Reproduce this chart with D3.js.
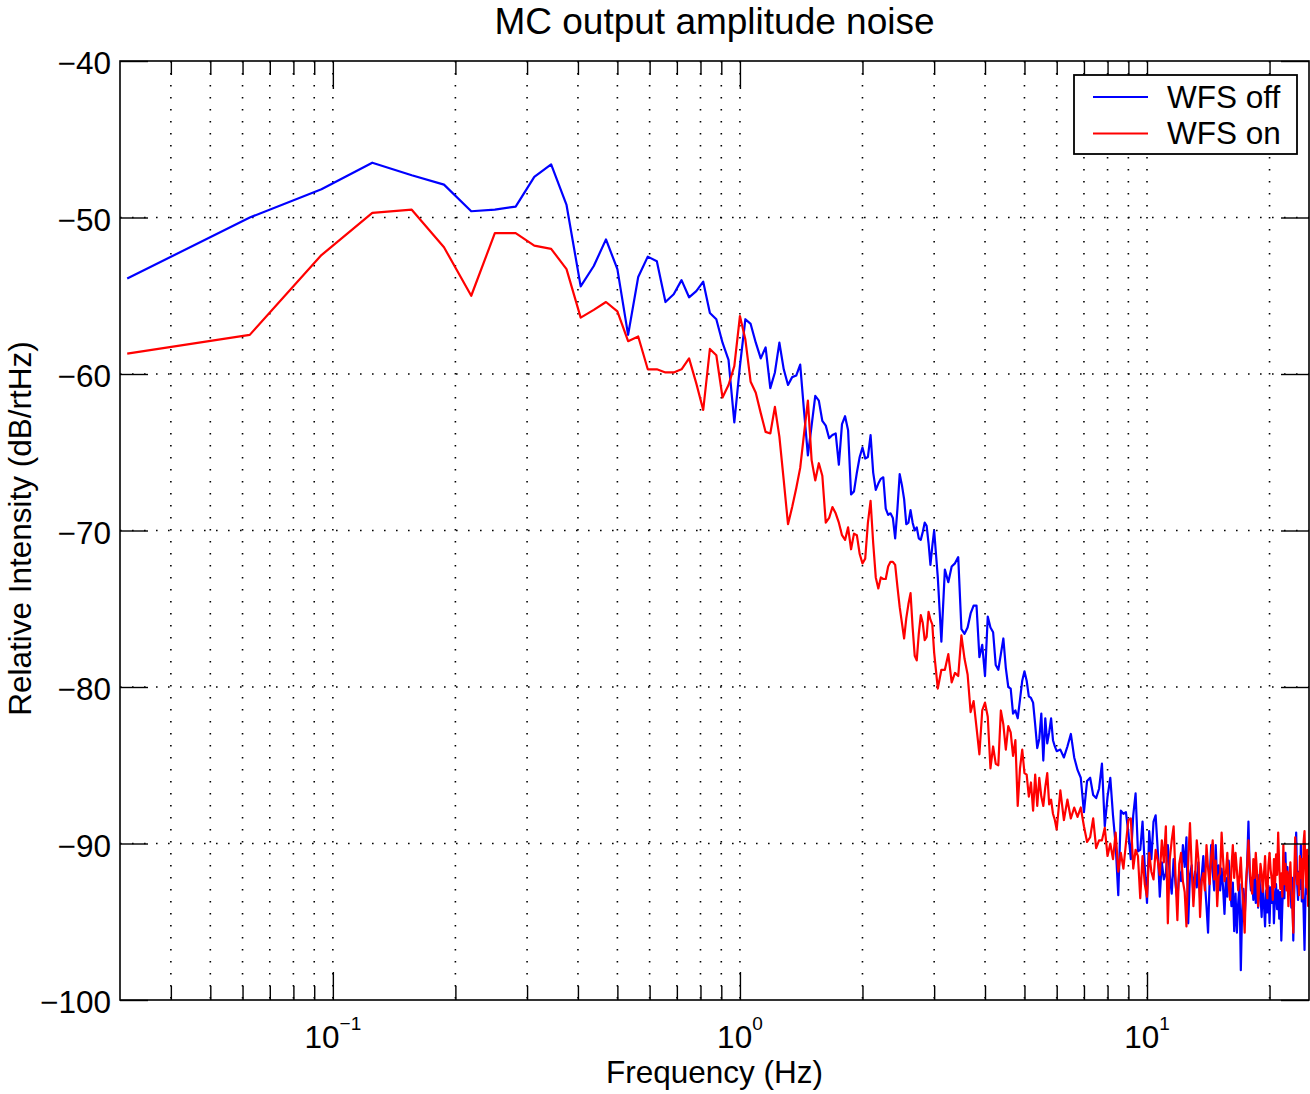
<!DOCTYPE html>
<html>
<head>
<meta charset="utf-8">
<title>MC output amplitude noise</title>
<script src="https://cdn.jsdelivr.net/npm/d3@7"></script>
<style>
  body { margin: 0; background: #fff; }
  svg { display: block; font-family: "Liberation Sans", Arial, Helvetica, sans-serif; }
  .grid line { stroke: #000; stroke-width: 1.6; stroke-dasharray: 1.6 10.4; }
  .tick line { stroke: #000; stroke-width: 1.4; }
</style>
</head>
<body>
<div id="chart"></div>
<script>

// spectrum bins are 1/32 Hz wide. every bin up to 3 Hz, then every 2nd up to 6 Hz, then every 4th
const binWidth = 1 / 32;
const bins = d3.range(1, 97).concat(d3.range(98, 193, 2), d3.range(196, 801, 4));

// WFS off (blue), dB/rtHz, one value per entry of bins
const wfsOff = [
  // 0.03 - 3 Hz
  -53.9, -50.0, -48.2, -46.5, -47.3, -47.9, -49.6, -49.5, -49.3, -47.4,
  -46.6, -49.2, -54.4, -53.1, -51.4, -53.3, -57.5, -53.8, -52.5, -52.8,
  -55.4, -54.9, -54.0, -55.1, -54.7, -54.1, -56.1, -56.5, -58.0, -59.1,
  -63.1, -59.5, -56.5, -56.8, -58.0, -59.0, -58.3, -60.9, -59.9, -58.0,
  -59.7, -60.7, -60.2, -60.1, -59.4, -62.4, -65.2, -63.3, -61.4, -61.7,
  -63.0, -63.3, -64.1, -63.9, -63.8, -65.8, -63.2, -62.7, -63.6, -67.7,
  -67.5, -66.3, -65.3, -64.7, -65.4, -65.3, -63.9, -66.3, -67.4, -67.0,
  -66.7, -66.6, -68.6, -69.0, -68.9, -69.2, -70.5, -68.6, -66.4, -67.1,
  -68.0, -69.6, -69.5, -68.7, -69.5, -70.0, -69.8, -70.5, -70.6, -70.1,
  -69.5, -69.7, -70.8, -72.2, -71.0, -70.0,
  // 3 - 6 Hz
  -73.0, -77.1, -72.5, -73.3, -72.3, -72.1, -71.7, -76.3, -76.6, -76.2,
  -75.3, -74.8, -74.8, -78.1, -77.3, -79.3, -75.5, -76.2, -76.5, -78.6,
  -78.9, -77.9, -76.9, -78.8, -80.0, -80.1, -81.7, -81.5, -82.0, -80.8,
  -79.6, -79.0, -79.6, -80.6, -80.7, -81.0, -82.4, -83.9, -83.3, -81.7,
  -84.7, -82.0, -83.6, -82.9, -82.0, -83.4, -83.8, -84.1,
  // 6 - 10 Hz
  -84.0, -84.5, -83.8, -83.0, -84.5, -85.3, -85.8, -88.0, -86.0, -85.8,
  -86.9, -87.1, -86.5, -84.9, -88.9, -87.0, -85.8, -88.2, -90.1, -93.3,
  -87.9, -88.1, -88.0, -89.3, -91.0, -88.2, -86.8, -90.5, -90.4, -88.6,
  -91.5, -93.8,
  // 10 - 25 Hz
  -89.2, -91.0, -88.6, -88.2, -90.4, -93.4, -91.2, -92.3, -91.9, -90.1,
  -92.0, -93.2, -91.0, -92.6, -93.6, -91.8, -92.4, -90.1, -91.5, -89.6,
  -95.1, -92.0, -91.4, -93.2, -91.8, -92.8, -91.2, -93.5, -92.1, -90.8,
  -92.5, -94.0, -95.7, -92.4, -90.1, -91.8, -93.0, -90.1, -92.6, -91.4,
  -93.0, -91.6, -92.8, -94.5, -92.2, -93.4, -91.1, -92.7, -94.0, -92.5,
  -95.6, -93.2, -95.7, -93.8, -92.6, -98.1, -94.3, -92.9, -94.7, -93.1,
  -91.2, -88.6, -91.9, -93.0, -92.2, -93.6, -91.7, -93.8, -92.4, -94.1,
  -92.0, -93.3, -94.7, -92.6, -93.9, -95.3, -93.0, -94.4, -92.7, -95.1,
  -92.8, -93.8, -92.1, -95.1, -93.4, -92.6, -94.2, -93.0, -94.8, -93.1,
  -96.2, -94.0, -92.3, -93.5, -90.6, -92.7, -91.5, -93.3, -91.9, -92.4,
  -94.1, -92.2, -96.2, -93.0, -91.4, -89.3, -92.5, -93.6, -91.8, -92.9,
  -90.1, -93.7, -92.4, -94.3, -96.8, -93.5, -91.6, -93.2, -90.8, -92.6
];

// WFS on (red)
const wfsOn = [
  // 0.03 - 3 Hz
  -58.7, -57.5, -52.4, -49.7, -49.5, -51.9, -55.0, -51.0, -51.0, -51.8,
  -52.0, -53.3, -56.4, -55.9, -55.4, -56.0, -57.9, -57.6, -59.7, -59.7,
  -59.9, -59.9, -59.7, -59.0, -60.6, -62.3, -58.4, -58.8, -61.5, -60.7,
  -59.5, -56.3, -57.8, -60.5, -61.2, -62.5, -63.7, -63.8, -62.1, -64.0,
  -66.8, -69.6, -68.5, -67.3, -66.0, -63.8, -61.7, -65.5, -66.8, -65.7,
  -66.5, -69.5, -69.2, -68.5, -68.9, -69.5, -70.3, -70.6, -69.8, -71.2,
  -70.2, -70.3, -71.5, -72.1, -71.8, -69.5, -68.1, -70.8, -73.0, -73.7,
  -73.0, -73.1, -73.1, -72.3, -72.0, -72.0, -72.2, -73.6, -74.9, -75.9,
  -76.9, -75.6, -74.7, -74.0, -76.2, -78.0, -78.3, -76.6, -75.4, -75.9,
  -77.0, -76.8, -75.2, -75.7, -76.0, -77.8,
  // 3 - 6 Hz
  -80.1, -78.9, -78.9, -77.9, -79.7, -79.1, -79.3, -76.7, -78.2, -79.2,
  -81.6, -80.9, -82.6, -84.3, -81.5, -81.0, -81.9, -85.2, -83.8, -84.9,
  -85.0, -81.5, -82.4, -84.0, -82.5, -82.9, -84.4, -83.4, -87.6, -85.2,
  -84.0, -85.5, -85.6, -87.0, -86.1, -87.9, -85.6, -87.6, -85.8, -87.0,
  -87.6, -86.4, -85.5, -87.5, -87.2, -88.1, -88.5, -89.1,
  // 6 - 10 Hz
  -86.6, -88.5, -87.2, -88.4, -87.7, -88.3, -87.7, -88.9, -89.9, -89.6,
  -88.4, -90.3, -89.8, -89.8, -89.0, -90.8, -90.0, -91.0, -89.3, -91.8,
  -90.6, -91.6, -90.0, -88.5, -88.4, -91.6, -90.4, -90.8, -93.5, -90.8,
  -92.6, -93.4,
  // 10 - 25 Hz
  -90.6, -91.8, -92.3, -90.4, -91.1, -92.0, -89.8, -91.2, -88.9, -95.1,
  -91.0, -89.8, -88.9, -92.1, -94.9, -91.3, -90.6, -92.4, -93.1, -95.3,
  -91.2, -88.7, -91.5, -94.0, -92.2, -89.8, -91.0, -94.7, -92.4, -91.9,
  -93.0, -90.1, -91.6, -92.6, -90.9, -89.8, -92.3, -91.1, -94.0, -92.1,
  -91.9, -89.3, -91.0, -92.4, -91.9, -90.6, -92.7, -93.6, -91.5, -90.1,
  -92.2, -90.6, -91.7, -93.0, -92.1, -90.9, -92.8, -94.1, -95.7, -92.5,
  -91.4, -89.8, -91.6, -92.5, -93.2, -91.0, -92.2, -90.6, -91.8, -94.0,
  -92.6, -91.3, -91.9, -93.1, -92.0, -90.8, -92.7, -93.5, -91.4, -90.6,
  -91.7, -92.3, -93.6, -91.0, -92.8, -90.7, -92.0, -89.3, -91.4, -92.9,
  -91.9, -93.4, -90.1, -92.6, -91.3, -93.0, -91.8, -94.0, -92.4, -91.2,
  -92.9, -94.1, -95.7, -92.0, -89.6, -91.3, -92.6, -91.9, -93.3, -90.8,
  -92.2, -91.0, -93.5, -89.9, -89.2, -91.7, -92.8, -90.4, -94.0, -91.5
];

const seriesNames = ["WFS off", "WFS on"];
const seriesColors = ["#0000ff", "#ff0000"];

const xDomain = [0.03, 25];
const yDomain = [-100, -40];
const yTicks = [-100, -90, -80, -70, -60, -50, -40];
const xMajor = [0.1, 1, 10];
const xMinor = [0.04, 0.05, 0.06, 0.07, 0.08, 0.09,
                0.2, 0.3, 0.4, 0.5, 0.6, 0.7, 0.8, 0.9,
                2, 3, 4, 5, 6, 7, 8, 9, 20];

const titleText = "MC output amplitude noise";
const xLabel = "Frequency (Hz)";
const yLabel = "Relative Intensity (dB/rtHz)";

// layout
let width = 1310;
let height = 1094;
let margin = {top: 61, right: 1, bottom: 94, left: 120};
let plotW = width - margin.left - margin.right;
let plotH = height - margin.top - margin.bottom;
let fontSize = 31.5;

let x = d3.scaleLog().domain(xDomain).range([0, plotW]);
let y = d3.scaleLinear().domain(yDomain).range([plotH, 0]);

let svg = d3.select("#chart")
    .append("svg")
    .attr("width", width)
    .attr("height", height);

svg.append("rect").attr("width", width).attr("height", height).attr("fill", "#fff");

let g = svg.append("g")
    .attr("transform", "translate(" + margin.left + "," + margin.top + ")");

// dotted grid
let grid = g.append("g").attr("class", "grid");
grid.selectAll(".vx")
    .data(xMinor.concat(xMajor))
    .enter().append("line")
    .attr("x1", d => x(d)).attr("x2", d => x(d))
    .attr("y1", 0).attr("y2", plotH);
grid.selectAll(".hy")
    .data(yTicks.filter(d => d > yDomain[0] && d < yDomain[1]))
    .enter().append("line")
    .attr("x1", 0).attr("x2", plotW)
    .attr("y1", d => y(d)).attr("y2", d => y(d));

// data lines
let clip = svg.append("defs").append("clipPath").attr("id", "plotclip");
clip.append("rect").attr("width", plotW).attr("height", plotH);

let line = d3.line()
    .x((d, i) => x(bins[i] * binWidth))
    .y(d => y(d));

g.append("g").attr("clip-path", "url(#plotclip)")
    .selectAll("path")
    .data([wfsOff, wfsOn])
    .enter().append("path")
    .attr("d", line)
    .attr("fill", "none")
    .attr("stroke", (d, i) => seriesColors[i])
    .attr("stroke-width", 2.2)
    .attr("stroke-linejoin", "round");

// axes: ticks point inwards on all four sides
function tickAxis(axis, size, values) {
    return axis.tickValues(values).tickSize(size).tickFormat("");
}
g.append("g").attr("transform", "translate(0," + plotH + ")").call(tickAxis(d3.axisBottom(x), -28, xMajor));
g.append("g").attr("transform", "translate(0," + plotH + ")").call(tickAxis(d3.axisBottom(x), -14, xMinor));
g.append("g").call(tickAxis(d3.axisTop(x), -28, xMajor));
g.append("g").call(tickAxis(d3.axisTop(x), -14, xMinor));
g.append("g").attr("transform", "translate(" + plotW + ",0)").call(tickAxis(d3.axisRight(y), -28, yTicks));

let yAxis = g.append("g")
    .call(d3.axisLeft(y)
        .tickValues(yTicks)
        .tickSize(-28)
        .tickPadding(9)
        .tickFormat(d => d < 0 ? "\u2212" + Math.abs(d) : d));
yAxis.selectAll("text")
    .attr("dy", "0.4em")
    .attr("fill", "#000")
    .style("font-size", fontSize + "px");

g.selectAll(".domain").remove();

// box around the plot
g.append("rect")
    .attr("width", plotW).attr("height", plotH)
    .attr("fill", "none").attr("stroke", "#000").attr("stroke-width", 1.6);

// x tick labels as 10 with a superscript exponent
let xLab = g.append("g").selectAll("text")
    .data(xMajor)
    .enter().append("text")
    .attr("x", d => x(d))
    .attr("y", plotH + 48)
    .attr("text-anchor", "middle")
    .style("font-size", fontSize + "px");
xLab.append("tspan").text("10");
xLab.append("tspan")
    .attr("dy", -18)
    .style("font-size", "19px")
    .text(d => {
        let e = Math.round(Math.log10(d));
        return e < 0 ? "\u2212" + Math.abs(e) : e;
    });

// axis labels and title
svg.append("text")
    .attr("x", margin.left + plotW / 2).attr("y", 1083)
    .attr("text-anchor", "middle")
    .style("font-size", fontSize + "px")
    .text(xLabel);

svg.append("text")
    .attr("transform", "translate(31," + (margin.top + plotH / 2 - 2) + ") rotate(-90)")
    .attr("text-anchor", "middle")
    .style("font-size", fontSize + "px")
    .text(yLabel);

svg.append("text")
    .attr("x", margin.left + plotW / 2).attr("y", 34)
    .attr("text-anchor", "middle")
    .style("font-size", "37px")
    .text(titleText);

// legend
let legend = svg.append("g").attr("transform", "translate(1074,75)");
legend.append("rect")
    .attr("width", 223).attr("height", 79)
    .attr("fill", "#fff").attr("stroke", "#000").attr("stroke-width", 1.8);
let item = legend.selectAll(".item")
    .data(seriesNames)
    .enter().append("g")
    .attr("transform", (d, i) => "translate(0," + (22 + i * 36.5) + ")");
item.append("line")
    .attr("x1", 19).attr("x2", 74)
    .attr("stroke", (d, i) => seriesColors[i])
    .attr("stroke-width", 2.2);
item.append("text")
    .attr("x", 93).attr("y", 10.5)
    .style("font-size", fontSize + "px")
    .text(d => d);

</script>
</body>
</html>
